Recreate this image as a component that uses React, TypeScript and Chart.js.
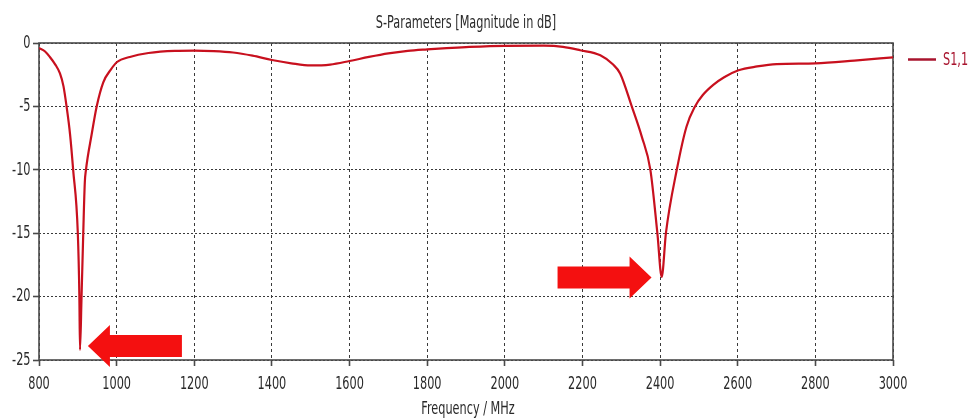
import React, { useEffect, useRef } from "react";
import { Chart, registerables } from "chart.js";

Chart.register(...registerables);

// Reflection coefficient S1,1 of the dual-band antenna (frequency in MHz, magnitude in dB)
const freqMHz = [
  800, 815, 828, 842, 854, 863, 871, 880, 888, 900, 904, 905.6, 909.6, 914, 918, 921, 935.7, 948.6,
  965.6, 985, 1001, 1034, 1082, 1150, 1200, 1250, 1300, 1350, 1400, 1450, 1500, 1550, 1600, 1650,
  1700, 1750, 1800, 1850, 1900, 2000, 2100, 2150, 2194, 2246, 2279, 2297, 2327, 2353, 2375, 2393,
  2404.2, 2415, 2443, 2468, 2490, 2510, 2537, 2565, 2602, 2650, 2700, 2800, 2900, 3000,
];
const s11dB = [
  -0.4, -0.65, -1.1, -1.7, -2.4, -3.4, -5.0, -7.2, -10.0, -15.0, -20.0, -24.2, -20.0, -15.0, -11.0,
  -10.0, -7.2, -5.0, -3.1, -2.1, -1.5, -1.1, -0.79, -0.62, -0.6, -0.64, -0.75, -1.0, -1.34, -1.6,
  -1.77, -1.7, -1.42, -1.1, -0.82, -0.62, -0.5, -0.4, -0.32, -0.22, -0.21, -0.3, -0.57, -0.97, -1.7,
  -2.4, -5.0, -7.4, -10.0, -15.0, -18.45, -15.0, -10.0, -6.6, -5.0, -4.1, -3.3, -2.7, -2.15, -1.85,
  -1.66, -1.6, -1.39, -1.13,
];

// Axis ranges and tick steps
const xRange = [800, 3000];
const xStep = 200;
const yRange = [-25, 0];
const yStep = 5;

const chartTitle = "S-Parameters [Magnitude in dB]";
const xAxisTitle = "Frequency / MHz";
const seriesName = "S1,1";

// Marker arrows pointing at the two resonances (tip position in data units)
const arrowTipFreq = [926, 2378];
const arrowTipDb = [-23.9, -18.5];
const arrowPointsLeft = [true, false];

const FONT_FAMILY = '"DejaVu Sans", "Noto Sans", sans-serif';
const FONT_SIZE = 18.5;
const SQUEEZE = 0.61;
const TEXT_COLOR = "#2a2a2a";
const CURVE_COLOR = "#c8101e";
const LEGEND_COLOR = "#a8142e";

function drawNarrowText(
  ctx: CanvasRenderingContext2D,
  text: string,
  x: number,
  y: number,
  align: "left" | "center" | "right",
  color: string,
  size: number = FONT_SIZE
) {
  ctx.save();
  ctx.font = `${size}px ${FONT_FAMILY}`;
  ctx.fillStyle = color;
  ctx.textBaseline = "middle";
  ctx.textAlign = "left";
  const w = ctx.measureText(text).width * SQUEEZE;
  const left = align === "left" ? x : align === "center" ? x - w / 2 : x - w;
  ctx.translate(left, y);
  ctx.scale(SQUEEZE, 1);
  ctx.fillText(text, 0, 0);
  ctx.restore();
}

const framePlugin = {
  id: "plotFrame",
  beforeDatasetsDraw(chart: any) {
    const { ctx, chartArea } = chart;
    ctx.save();
    ctx.strokeStyle = "#4a4a4a";
    ctx.lineWidth = 1.6;
    ctx.strokeRect(chartArea.left, chartArea.top, chartArea.right - chartArea.left, chartArea.bottom - chartArea.top);
    ctx.restore();
  },
};

const arrowPlugin = {
  id: "resonanceArrows",
  afterDatasetsDraw(chart: any) {
    const { ctx } = chart;
    const xs = chart.scales.x;
    const ys = chart.scales.y;
    const headLen = 22;
    const headHalf = 21;
    const bodyLen = 72;
    const bodyHalf = 11;
    ctx.save();
    ctx.fillStyle = "#f41010";
    arrowTipFreq.forEach((f, i) => {
      const tx = xs.getPixelForValue(f);
      const ty = ys.getPixelForValue(arrowTipDb[i]);
      const d = arrowPointsLeft[i] ? 1 : -1;
      ctx.beginPath();
      ctx.moveTo(tx, ty);
      ctx.lineTo(tx + d * headLen, ty - headHalf);
      ctx.lineTo(tx + d * headLen, ty - bodyHalf);
      ctx.lineTo(tx + d * (headLen + bodyLen), ty - bodyHalf);
      ctx.lineTo(tx + d * (headLen + bodyLen), ty + bodyHalf);
      ctx.lineTo(tx + d * headLen, ty + bodyHalf);
      ctx.lineTo(tx + d * headLen, ty + headHalf);
      ctx.closePath();
      ctx.fill();
    });
    ctx.restore();
  },
};

const textPlugin = {
  id: "narrowText",
  afterDraw(chart: any) {
    const { ctx, chartArea } = chart;
    const xs = chart.scales.x;
    const ys = chart.scales.y;
    const midX = (chartArea.left + chartArea.right) / 2;

    xs.ticks.forEach((t: any) => {
      drawNarrowText(ctx, String(t.label), xs.getPixelForValue(t.value), chartArea.bottom + 24.5, "center", TEXT_COLOR);
    });
    ys.ticks.forEach((t: any) => {
      drawNarrowText(ctx, String(t.label), chartArea.left - 8.5, ys.getPixelForValue(t.value), "right", TEXT_COLOR);
    });

    drawNarrowText(ctx, chartTitle, midX, 23, "center", TEXT_COLOR);
    drawNarrowText(ctx, xAxisTitle, midX + 2, 409.5, "center", TEXT_COLOR);

    // legend entry
    const ly = chartArea.top + 16.5;
    ctx.save();
    ctx.strokeStyle = LEGEND_COLOR;
    ctx.lineWidth = 2.5;
    ctx.beginPath();
    ctx.moveTo(chartArea.right + 15, ly);
    ctx.lineTo(chartArea.right + 43, ly);
    ctx.stroke();
    ctx.restore();
    drawNarrowText(ctx, seriesName, chartArea.right + 50, ly + 1, "left", LEGEND_COLOR);
  },
};

const plainLabel = (v: number | string) => String(v);

export default function App() {
  const canvasRef = useRef<HTMLCanvasElement | null>(null);

  useEffect(() => {
    const canvas = canvasRef.current;
    if (!canvas) return;
    const points = freqMHz.map((f, i) => ({ x: f, y: s11dB[i] }));

    const chart = new Chart(canvas, {
      type: "line",
      data: {
        datasets: [
          {
            label: seriesName,
            data: points,
            borderColor: CURVE_COLOR,
            borderWidth: 2.2,
            pointRadius: 0,
            fill: false,
            cubicInterpolationMode: "monotone",
          },
        ],
      },
      options: {
        animation: false,
        responsive: false,
        devicePixelRatio: 1,
        layout: { padding: { top: 43, right: 78, left: 0, bottom: 0 } },
        plugins: {
          legend: { display: false },
          title: { display: false },
          tooltip: { enabled: false },
        },
        scales: {
          x: {
            type: "linear",
            min: xRange[0],
            max: xRange[1],
            ticks: { stepSize: xStep, display: false, callback: plainLabel },
            grid: {
              color: "#3a3a3a",
              lineWidth: 1,
              drawTicks: true,
              tickLength: 6,
              tickColor: "#4a4a4a",
              tickWidth: 1.6,
              tickBorderDash: [],
            },
            border: { display: false, dash: [3, 3] },
            afterFit: (s: any) => {
              s.height = 60;
            },
          },
          y: {
            type: "linear",
            min: yRange[0],
            max: yRange[1],
            ticks: { stepSize: yStep, display: false, callback: plainLabel },
            grid: {
              color: "#3a3a3a",
              lineWidth: 1,
              drawTicks: true,
              tickLength: 6,
              tickColor: "#4a4a4a",
              tickWidth: 1.6,
              tickBorderDash: [],
            },
            border: { display: false, dash: [2, 2] },
            afterFit: (s: any) => {
              s.width = 39;
            },
          },
        },
      },
      plugins: [framePlugin, arrowPlugin, textPlugin],
    } as any);

    return () => chart.destroy();
  }, []);

  return (
    <div style={{ position: "fixed", left: 0, top: 0, width: 971, height: 420, background: "#ffffff" }}>
      <canvas ref={canvasRef} width={971} height={420} style={{ display: "block" }} />
    </div>
  );
}
